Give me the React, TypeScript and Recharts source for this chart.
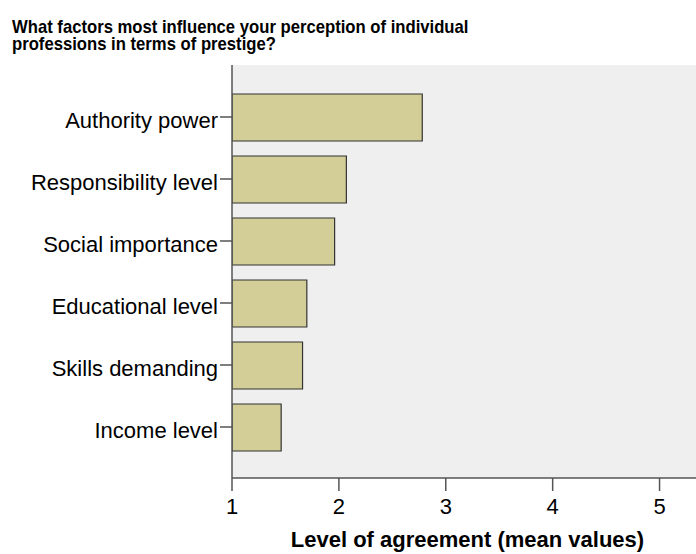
import React from "react";
import { BarChart, Bar, XAxis, YAxis, CartesianGrid } from "recharts";

// mean agreement per factor (1 = lowest .. 5)
const factors = [
    "Authority power",
    "Responsibility level",
    "Social importance",
    "Educational level",
    "Skills demanding",
    "Income level",
];
const meanValues = [2.78, 2.07, 1.96, 1.7, 1.66, 1.46];
const xTicks = [1, 2, 3, 4, 5];
const titleLines = [
    "What factors most influence your perception of individual",
    "professions in terms of prestige?",
];

const data = factors.map((name, i) => ({ name, mean: meanValues[i] }));

const FONT = "Arial, 'Liberation Sans', sans-serif";

export default function App() {
    return (
        <div
            style={{
                position: "absolute",
                left: 0,
                top: 0,
                width: 696,
                height: 554,
                overflow: "hidden",
                background: "#fff",
                fontFamily: FONT,
            }}
        >
            {titleLines.map((line, i) => (
                <div
                    key={i}
                    style={{
                        position: "absolute",
                        left: 12,
                        top: 19 + i * 16.5,
                        height: 16,
                        fontSize: 19,
                        fontWeight: "bold",
                        lineHeight: "16px",
                        whiteSpace: "nowrap",
                        transform: "scaleX(0.877)",
                        transformOrigin: "left top",
                    }}
                >
                    {line}
                </div>
            ))}
            <BarChart
                width={713}
                height={554}
                data={data}
                layout="vertical"
                margin={{ top: 65, right: 0, bottom: 0, left: 0 }}
                style={{ position: "absolute", left: 0, top: 0 }}
            >
                <CartesianGrid
                    fill="#efefef"
                    horizontal={false}
                    vertical={false}
                />
                <XAxis
                    type="number"
                    domain={[1, 5.5]}
                    ticks={xTicks}
                    allowDataOverflow
                    height={76}
                    tickSize={13}
                    tickMargin={7}
                    stroke="#555"
                    strokeWidth={1.5}
                    tick={{ fill: "#000", fontSize: 22, fontFamily: FONT }}
                    label={{
                        value: "Level of agreement (mean values)",
                        position: "insideBottom",
                        offset: 7,
                        dx: -5,
                        fill: "#000",
                        fontSize: 22,
                        fontWeight: "bold",
                        fontFamily: FONT,
                    }}
                />
                <XAxis
                    xAxisId="top"
                    orientation="top"
                    type="number"
                    domain={[1, 5.5]}
                    height={0}
                    tick={false}
                    tickLine={false}
                    stroke="#666"
                    strokeWidth={1.5}
                />
                <YAxis
                    type="category"
                    dataKey="name"
                    width={232}
                    padding={{ top: 21, bottom: 20 }}
                    tickSize={12}
                    tickMargin={2}
                    stroke="#555"
                    strokeWidth={1.5}
                    tick={{ fill: "#000", fontSize: 22, fontFamily: FONT, dy: 3 }}
                />
                <Bar
                    dataKey="mean"
                    fill="#d3ce97"
                    stroke="#333"
                    strokeWidth={1.2}
                    barSize={47}
                    isAnimationActive={false}
                />
            </BarChart>
        </div>
    );
}
